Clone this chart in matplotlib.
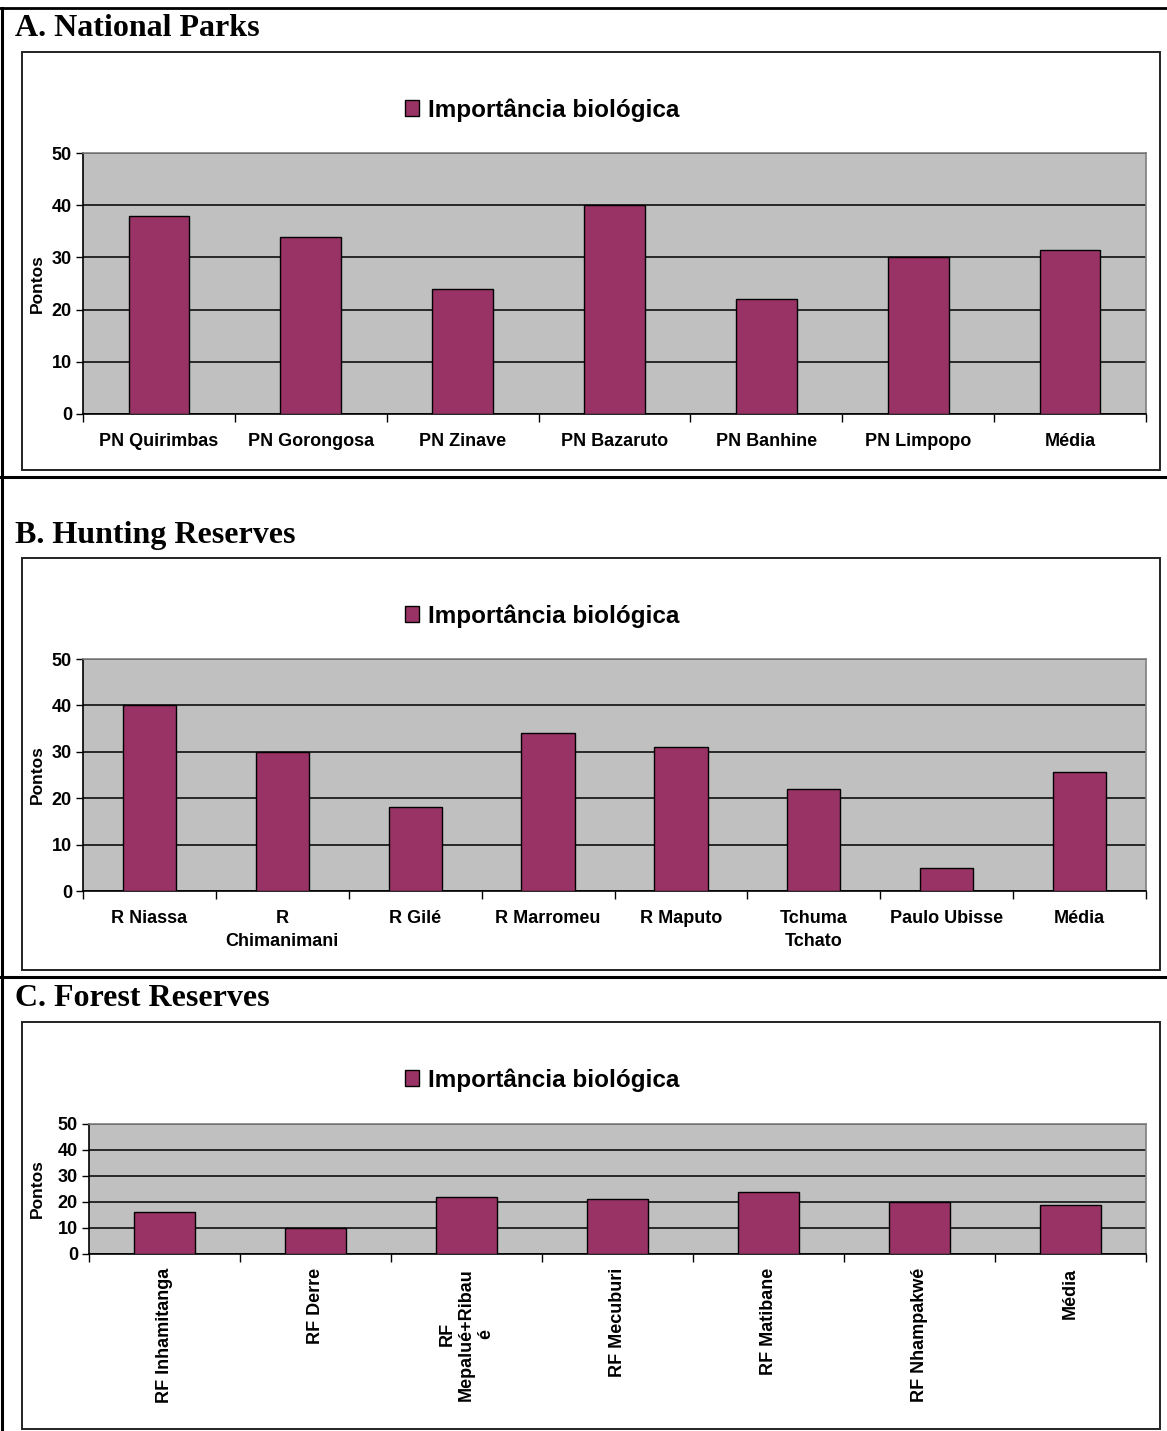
import numpy as np
import matplotlib
matplotlib.use("Agg")
import matplotlib.pyplot as plt
from matplotlib.patches import Rectangle, Patch
from matplotlib.lines import Line2D

# pontos de importancia biologica por area protegida
parques = ["PN Quirimbas", "PN Gorongosa", "PN Zinave", "PN Bazaruto",
           "PN Banhine", "PN Limpopo", "Média"]
parques_pts = [38, 34, 24, 40, 22, 30, 31.33]

reservas = ["R Niassa", "R\nChimanimani", "R Gilé", "R Marromeu", "R Maputo",
            "Tchuma\nTchato", "Paulo Ubisse", "Média"]
reservas_pts = [40, 30, 18, 34, 31, 22, 5, 25.71]

florestais = ["RF Inhamitanga", "RF Derre", "RF\nMepalué+Ribau\né", "RF Mecuburi",
              "RF Matibane", "RF Nhampakwé", "Média"]
florestais_pts = [16, 10, 22, 21, 24, 20, 18.83]

titulos = ["A. National Parks", "B. Hunting Reserves", "C. Forest Reserves"]
serie = "Importância biológica"
yticks = [0, 10, 20, 30, 40, 50]

W, H = 1167, 1431
BAR = "#993366"
SANS = "Liberation Sans"
SERIF = "Liberation Serif"

fig = plt.figure(figsize=(W / 100, H / 100), dpi=100)


def rect(x0, y0, x1, y1):
    return [x0 / W, 1 - y1 / H, (x1 - x0) / W, (y1 - y0) / H]


def hline(y, x0=0, x1=W, lw=2.0):
    fig.add_artist(Line2D([x0 / W, x1 / W], [1 - y / H, 1 - y / H],
                          transform=fig.transFigure, color="black", lw=lw))


# moldura da tabela
hline(8)
hline(477, lw=2.2)
hline(977, lw=2.2)
fig.add_artist(Line2D([1.5 / W, 1.5 / W], [1 - 8 / H, 0],
                      transform=fig.transFigure, color="black", lw=2.2))

paineis = [
    # titulo_y, caixa, area do grafico, legenda_y, dados
    (28, (22, 52, 1160, 470), (83, 153, 1146, 414), 110, parques, parques_pts, 0),
    (535, (22, 558, 1160, 970), (83, 659, 1146, 891), 616, reservas, reservas_pts, 0),
    (999, (22, 1022, 1160, 1429), (89, 1124, 1146, 1254), 1080, florestais, florestais_pts, 90),
]

for titulo, (ty, caixa, area, ly, cats, vals, rot) in zip(titulos, paineis):
    fig.text(15 / W, 1 - ty / H, titulo, family=SERIF, weight="bold",
             fontsize=23, va="center", ha="left")
    x0, y0, x1, y1 = caixa
    fig.add_artist(Rectangle((x0 / W, 1 - y1 / H), (x1 - x0) / W, (y1 - y0) / H,
                             transform=fig.transFigure, fill=False,
                             edgecolor="#222222", lw=1.4))

    ax = fig.add_axes(rect(*area))
    ax.set_facecolor("#C0C0C0")
    n = len(cats)
    x = np.arange(n)
    ax.bar(x, vals, width=0.4, color=BAR, edgecolor="black", lw=1.0, zorder=3)
    ax.set_xlim(-0.5, n - 0.5)
    ax.set_ylim(0, 50)
    ax.set_yticks(yticks)
    ax.yaxis.grid(True, color="black", lw=1.1, zorder=1)
    ax.set_axisbelow(True)
    for lab in ax.get_yticklabels():
        lab.set_family(SANS)
        lab.set_weight("bold")
        lab.set_fontsize(13)
    ax.tick_params(axis="y", length=5, width=1, direction="out", pad=3)

    ax.set_xticks(x)
    if rot:
        ax.set_xticklabels(cats, rotation=90, ha="center", va="top",
                           family=SANS, weight="bold", fontsize=13,
                           multialignment="center")
        ax.tick_params(axis="x", which="major", length=0, pad=10)
    else:
        ax.set_xticklabels(cats, family=SANS, weight="bold", fontsize=13,
                           linespacing=1.4)
        ax.tick_params(axis="x", which="major", length=0, pad=14)
    ax.set_xticks(np.arange(n + 1) - 0.5, minor=True)
    ax.tick_params(axis="x", which="minor", length=6, width=1, direction="out")

    for s in ("top", "right"):
        ax.spines[s].set_color("#808080")
        ax.spines[s].set_linewidth(1.2)
    for s in ("left", "bottom"):
        ax.spines[s].set_color("black")
        ax.spines[s].set_linewidth(1.2)

    fig.text(37 / W, 1 - (area[1] + area[3]) / 2 / H, "Pontos", rotation=90,
             family=SANS, weight="bold", fontsize=12.5, ha="center", va="center")

    leg = fig.legend(handles=[Patch(facecolor=BAR, edgecolor="black", lw=1.0)],
                     labels=[serie], loc="center",
                     bbox_to_anchor=(542 / W, 1 - ly / H),
                     frameon=False, handlelength=0.6, handleheight=0.6,
                     handletextpad=0.35, borderpad=0,
                     prop={"family": SANS, "weight": "bold", "size": 17.5})

fig.savefig("out.png", dpi=100)
